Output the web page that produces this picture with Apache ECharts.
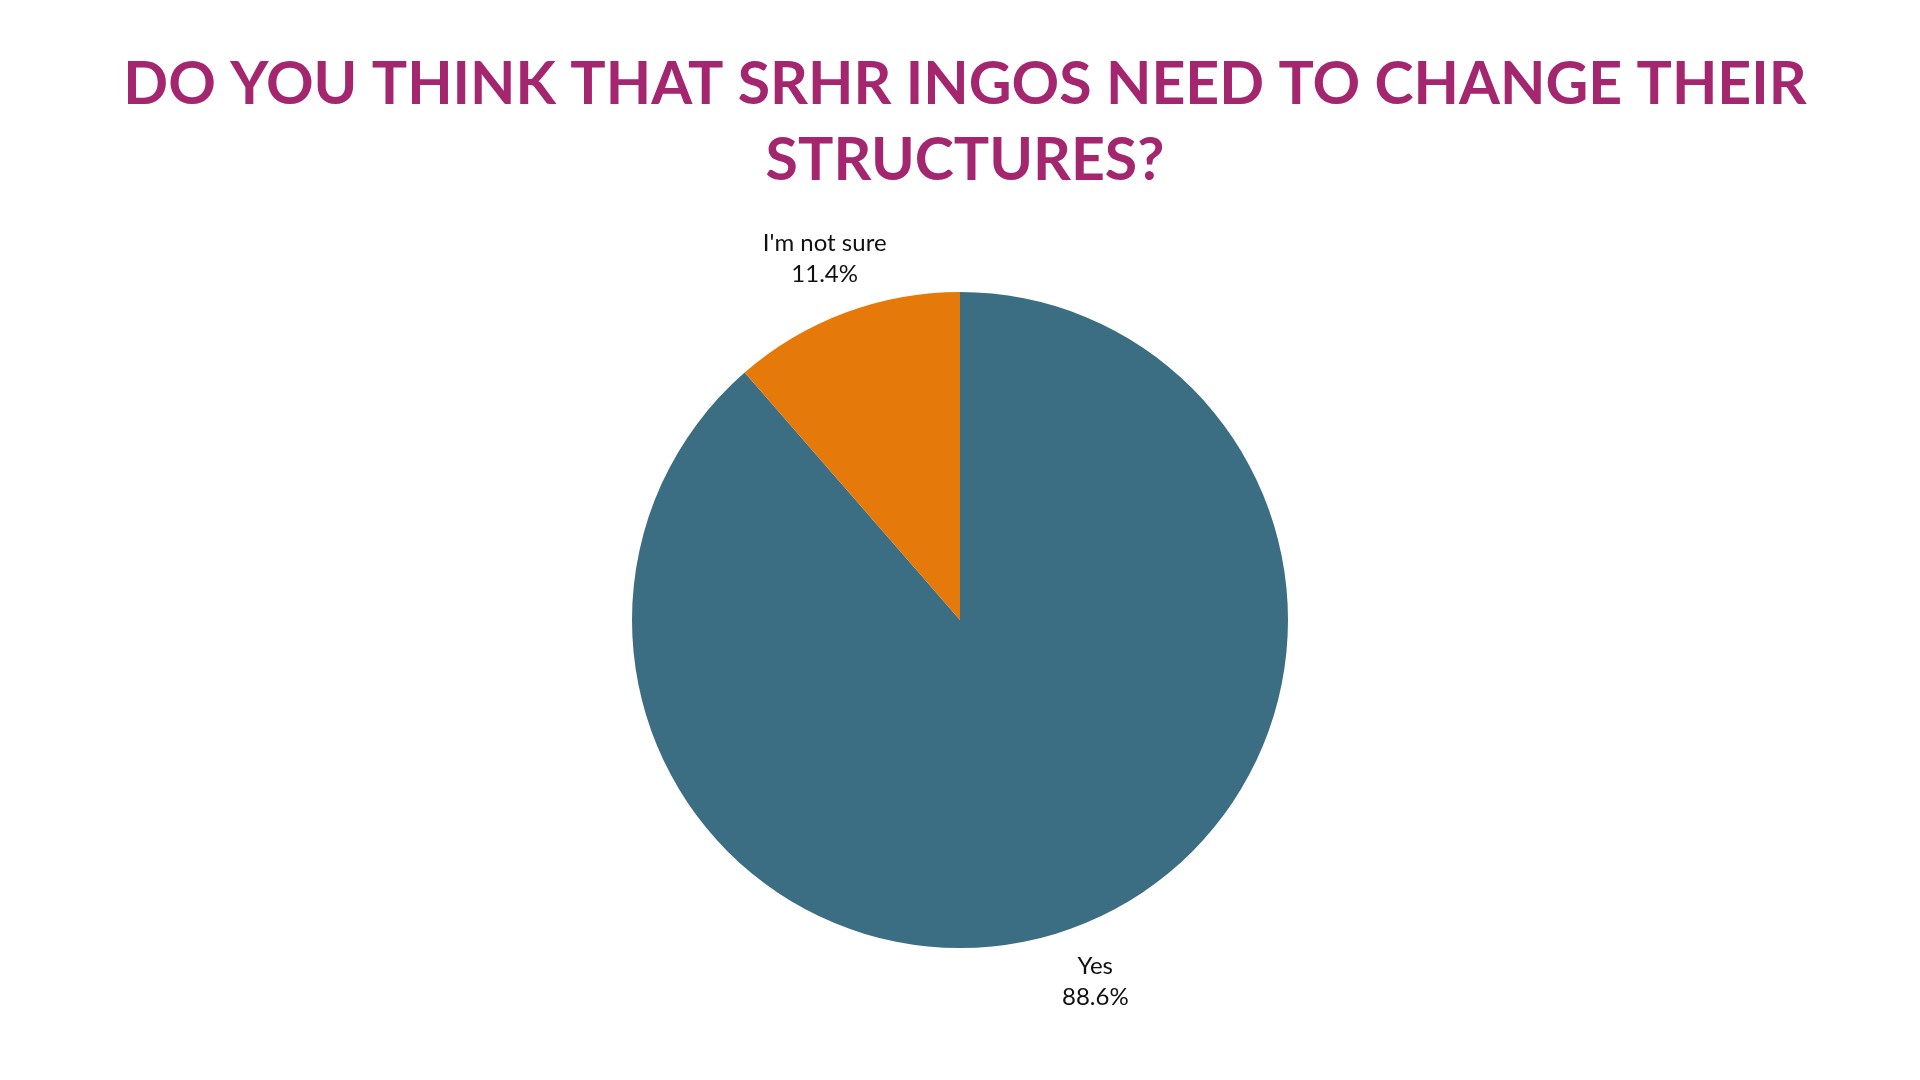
<!DOCTYPE html>
<html>
<head>
<meta charset="utf-8">
<script src="https://cdn.jsdelivr.net/npm/echarts@6/dist/echarts.min.js"></script>
<style>
  html, body { margin: 0; padding: 0; background: #fff; }
  #chart { width: 1920px; height: 1080px; }
</style>
</head>
<body>
<div id="chart"></div>
<script>
const titleText = 'DO YOU THINK THAT SRHR INGOS NEED TO CHANGE THEIR\nSTRUCTURES?'
const categories = ['Yes', "I'm not sure"]
const shares = [88.6, 11.4]
const colors = ['#3b6e82', '#e57a0a']

let pieData = categories.map((name, i) => ({
  name: name,
  value: shares[i],
  itemStyle: { color: colors[i] }
}))

let chart = echarts.init(document.getElementById('chart'))

chart.setOption({
  backgroundColor: '#fff',
  animation: false,
  title: {
    text: titleText,
    left: '50%',
    top: 42,
    textAlign: 'center',
    textStyle: {
      color: '#a4266e',
      fontFamily: 'Lato',
      fontWeight: 'bold',
      fontSize: 59,
      lineHeight: 76
    }
  },
  series: [
    {
      // visible pie
      type: 'pie',
      center: [960, 620],
      radius: [0, 328],
      startAngle: 90,
      clockwise: true,
      silent: true,
      label: { show: false },
      labelLine: { show: false },
      data: pieData
    },
    {
      // transparent ring, only used to centre the labels around the pie
      type: 'pie',
      center: [960, 620],
      radius: [358, 408],
      startAngle: 90,
      clockwise: true,
      silent: true,
      itemStyle: { color: 'rgba(0,0,0,0)' },
      label: {
        show: true,
        position: 'inside',
        formatter: '{b}\n{c}%',
        color: '#111',
        fontFamily: 'Lato',
        fontSize: 24,
        lineHeight: 31,
        align: 'center'
      },
      labelLine: { show: false },
      data: categories.map((name, i) => ({ name: name, value: shares[i] }))
    }
  ]
})
</script>
</body>
</html>
